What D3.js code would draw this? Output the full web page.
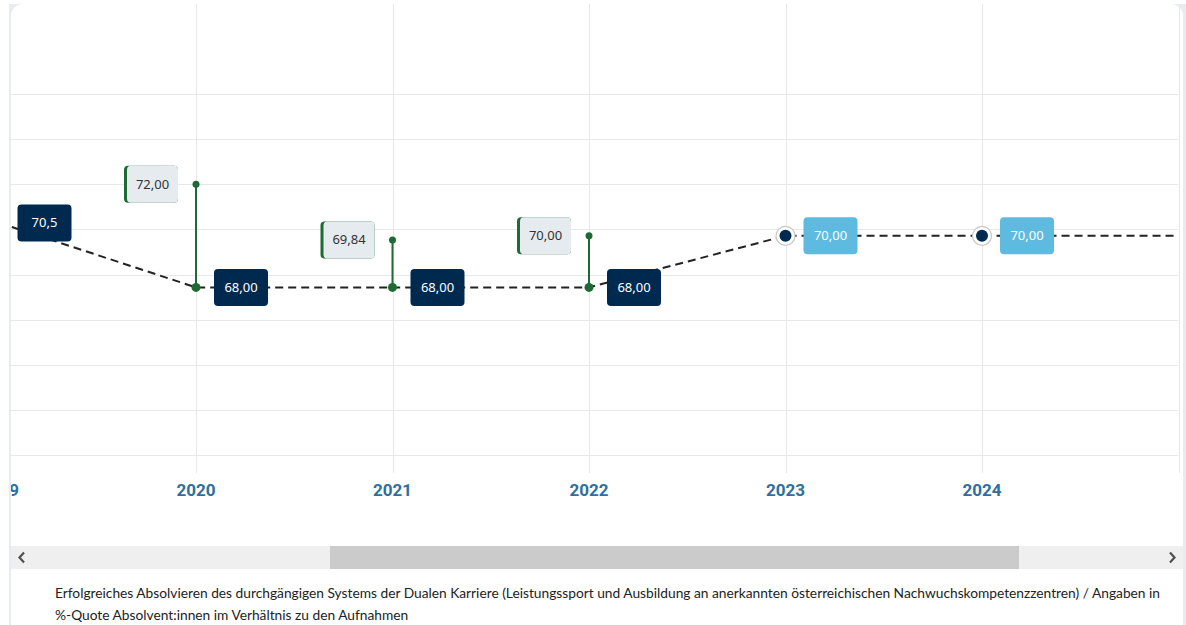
<!DOCTYPE html>
<html>
<head>
<meta charset="utf-8">
<script src="https://cdn.jsdelivr.net/npm/d3@7/dist/d3.min.js"></script>
<style>
  html, body { margin: 0; padding: 0; background: #ffffff; }
  svg { display: block; }
</style>
</head>
<body>
<svg id="chart" width="1186" height="625"></svg>
<script>
// Years on the horizontal axis
const years = [2019, 2020, 2021, 2022, 2023, 2024, 2025];

// Actual values (Ist)
const actualYears  = [2019, 2020, 2021, 2022];
const actualValues = [70.5, 68.00, 68.00, 68.00];
const actualLabels = ["70,5", "68,00", "68,00", "68,00"];

// Target values (Soll) for the years with actual results
const targetYears  = [2020, 2021, 2022];
const targetValues = [72.00, 69.84, 70.00];

// Planned values for the coming years
const planYears  = [2023, 2024, 2025];
const planValues = [70.00, 70.00, 70.00];

const caption = [
  "Erfolgreiches Absolvieren des durchgängigen Systems der Dualen Karriere (Leistungssport und Ausbildung an anerkannten österreichischen Nachwuchskompetenzzentren) / Angaben in",
  "%-Quote Absolvent:innen im Verhältnis zu den Aufnahmen"
];

const fmt = v => d3.format(".2f")(v).replace(".", ",");

const W = 1186, H = 625;
const svg = d3.select("#chart");

const NAVY = "#00294f", GREEN = "#1e6a34", SKY = "#5ebade", GREYBOX = "#e5ebef";

// Card frame
svg.append("rect").attr("x", 9).attr("y", 4).attr("width", W - 9).attr("height", H - 4).attr("fill", "#e6ecf0");
svg.append("rect").attr("x", 11).attr("y", 4).attr("width", 1172).attr("height", H + 20).attr("rx", 12).attr("fill", "#ffffff");

// Scales
const x = d3.scalePoint().domain(years).range([-0.5, 1178.5]);
const y = d3.scaleLinear().domain([61.5, 75.5]).range([455, 94]);
const gridValues = d3.range(61.5, 75.5 + 1e-6, 1.75);

// Visible part of the scrolled plot
const viewLeft = 11, viewRight = 1177;
const inView = yr => x(yr) <= viewRight;

const defs = svg.append("defs");
defs.append("clipPath").attr("id", "plotClip")
  .append("rect").attr("x", viewLeft).attr("y", 0).attr("width", viewRight - viewLeft).attr("height", 540);

// Horizontal grid
svg.append("g").selectAll("line").data(gridValues).join("line")
  .attr("x1", viewLeft).attr("x2", 1178)
  .attr("y1", d => Math.round(y(d)) + 0.5).attr("y2", d => Math.round(y(d)) + 0.5)
  .attr("stroke", "#e8e8e8").attr("stroke-width", 1);

// Vertical grid / ticks
svg.append("g").selectAll("line").data(years.filter(d => x(d) > viewLeft)).join("line")
  .attr("x1", d => Math.round(x(d)) + 0.5).attr("x2", d => Math.round(x(d)) + 0.5)
  .attr("y1", 4).attr("y2", 473)
  .attr("stroke", "#e8e8e8").attr("stroke-width", 1);

const plot = svg.append("g").attr("clip-path", "url(#plotClip)");

// Axis labels
plot.append("g").selectAll("text").data(years.filter(inView)).join("text")
  .attr("x", d => x(d)).attr("y", 496)
  .attr("text-anchor", "middle")
  .attr("font-family", "Roboto, 'Liberation Sans', sans-serif")
  .attr("font-weight", 700).attr("font-size", 17)
  .attr("fill", "#2f6f9d")
  .text(d => d);

// Dashed line through actual and planned values
const lineData = actualYears.map((yr, i) => ({ yr, v: actualValues[i] }))
  .concat(planYears.map((yr, i) => ({ yr, v: planValues[i] })));
plot.append("path")
  .datum(lineData)
  .attr("d", d3.line().x(d => x(d.yr)).y(d => y(d.v)))
  .attr("fill", "none").attr("stroke", "#222").attr("stroke-width", 2)
  .attr("stroke-dasharray", "8,5");

// Target stems
const stems = targetYears.map((yr, i) => ({ yr, t: targetValues[i], a: actualValues[actualYears.indexOf(yr)] }));
const stemG = plot.append("g");
stemG.selectAll("line").data(stems).join("line")
  .attr("x1", d => x(d.yr)).attr("x2", d => x(d.yr))
  .attr("y1", d => y(d.t)).attr("y2", d => y(d.a))
  .attr("stroke", GREEN).attr("stroke-width", 2);
stemG.selectAll("circle.top").data(stems).join("circle").attr("class", "top")
  .attr("cx", d => x(d.yr)).attr("cy", d => y(d.t)).attr("r", 3.5).attr("fill", GREEN);
stemG.selectAll("circle.bot").data(stems).join("circle").attr("class", "bot")
  .attr("cx", d => x(d.yr)).attr("cy", d => y(d.a)).attr("r", 4.5).attr("fill", GREEN);

// Plan markers
const planG = plot.append("g");
planYears.forEach((yr, i) => {
  if (!inView(yr)) return;
  planG.append("circle").attr("cx", x(yr)).attr("cy", y(planValues[i])).attr("r", 9.5)
    .attr("fill", "#fff").attr("stroke", "#c8c8c8").attr("stroke-width", 1.2);
  planG.append("circle").attr("cx", x(yr)).attr("cy", y(planValues[i])).attr("r", 6).attr("fill", NAVY);
});

const BW = 54, BH = 37, GAP = 18;
const labelFont = "'Noto Sans', 'Open Sans', sans-serif";

// Target labels (left of stem)
const tl = plot.append("g");
stems.forEach(d => {
  const cx = x(d.yr), cy = y(d.t);
  const x0 = cx - GAP - BW;
  tl.append("rect").attr("x", x0).attr("y", cy - BH / 2).attr("width", BW).attr("height", BH)
    .attr("rx", 4).attr("fill", GREEN);
  tl.append("rect").attr("x", x0 + 3).attr("y", cy - BH / 2).attr("width", BW - 3).attr("height", BH)
    .attr("rx", 4).attr("fill", GREYBOX);
  tl.append("text").attr("x", x0 + 3 + (BW - 3) / 2).attr("y", cy + 4.5)
    .attr("text-anchor", "middle").attr("font-family", labelFont).attr("font-size", 13)
    .attr("fill", "#333").text(fmt(d.t));
});

// Actual labels (right of point)
const al = plot.append("g");
actualYears.forEach((yr, i) => {
  const cx = x(yr), cy = y(actualValues[i]);
  al.append("rect").attr("x", cx + GAP).attr("y", cy - BH / 2).attr("width", BW).attr("height", BH)
    .attr("rx", 4).attr("fill", NAVY);
  al.append("text").attr("x", cx + GAP + BW / 2).attr("y", cy + 4.5)
    .attr("text-anchor", "middle").attr("font-family", labelFont).attr("font-size", 13)
    .attr("fill", "#fff").text(actualLabels[i]);
});

// Plan labels
const pl = plot.append("g");
planYears.forEach((yr, i) => {
  if (!inView(yr)) return;
  const cx = x(yr), cy = y(planValues[i]);
  pl.append("rect").attr("x", cx + GAP).attr("y", cy - BH / 2).attr("width", BW).attr("height", BH)
    .attr("rx", 4).attr("fill", SKY);
  pl.append("text").attr("x", cx + GAP + BW / 2).attr("y", cy + 4.5)
    .attr("text-anchor", "middle").attr("font-family", labelFont).attr("font-size", 13)
    .attr("fill", "#fff").text(fmt(planValues[i]));
});

// Scrollbar
const sb = svg.append("g");
sb.append("rect").attr("x", 11).attr("y", 546).attr("width", 1172).attr("height", 23).attr("fill", "#efefef");
sb.append("rect").attr("x", 330).attr("y", 546).attr("width", 689).attr("height", 23).attr("fill", "#cbcbcb");
sb.append("path").attr("d", "M24,552.5 L19.5,557.5 L24,562.5")
  .attr("fill", "none").attr("stroke", "#505050").attr("stroke-width", 2.2);
sb.append("path").attr("d", "M1170,552.5 L1174.5,557.5 L1170,562.5")
  .attr("fill", "none").attr("stroke", "#505050").attr("stroke-width", 2.2);

// Caption
svg.append("g").selectAll("text").data(caption).join("text")
  .attr("x", 55).attr("y", (d, i) => 598 + i * 22)
  .attr("font-family", "Lato, 'Noto Sans', sans-serif").attr("font-size", 13.75)
  .attr("fill", "#222").text(d => d);
</script>
</body>
</html>
